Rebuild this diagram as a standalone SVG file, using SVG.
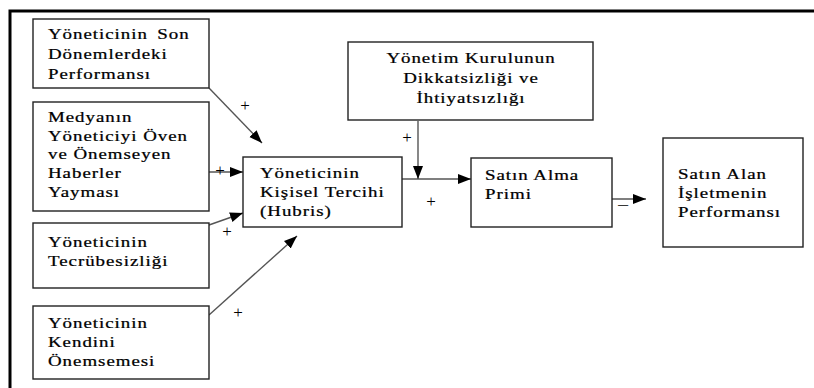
<svg xmlns="http://www.w3.org/2000/svg" width="814" height="388" viewBox="0 0 814 388">
<style>
.box{fill:#fff;stroke:#222;stroke-width:1.4}
.t{font-family:"Liberation Serif","Times New Roman",serif;font-size:15.5px;fill:#000;stroke:#000;stroke-width:0.25;letter-spacing:0.8px}
.s{font-family:"Liberation Serif","Times New Roman",serif;font-size:17px;fill:#000}
.c{stroke:#555;stroke-width:1.4;fill:none}
.frame{stroke:#000;stroke-width:3;fill:none}
</style>
<defs>
<marker id="ah" markerUnits="userSpaceOnUse" markerWidth="14" markerHeight="12" refX="13" refY="5" orient="auto">
<path d="M0,0 L13,5 L0,10 Z" fill="#000"/>
</marker>
</defs>
<rect width="814" height="388" fill="#fff"/>
<path class="frame" d="M10,388 V11 H814"/>

<g id="connectors">
<line class="c" x1="209" y1="88" x2="262" y2="143" marker-end="url(#ah)"/>
<line class="c" x1="209" y1="172" x2="243" y2="172" marker-end="url(#ah)"/>
<line class="c" x1="209" y1="225" x2="243" y2="213" marker-end="url(#ah)"/>
<line class="c" x1="209" y1="315" x2="297" y2="236" marker-end="url(#ah)"/>
<line class="c" x1="402" y1="179" x2="471" y2="179" marker-end="url(#ah)"/>
<line class="c" x1="418" y1="121" x2="418" y2="179" marker-end="url(#ah)"/>
<line class="c" x1="612" y1="199" x2="646" y2="199" marker-end="url(#ah)"/>
<text class="s" x="245" y="111" text-anchor="middle">+</text>
<text class="s" x="220" y="176" text-anchor="middle">+</text>
<text class="s" x="227" y="237" text-anchor="middle">+</text>
<text class="s" x="238" y="318" text-anchor="middle">+</text>
<text class="s" x="407" y="143" text-anchor="middle">+</text>
<text class="s" x="431" y="207" text-anchor="middle">+</text>
<text class="s" x="623" y="211" text-anchor="middle" transform="translate(623,0) scale(1.3,1) translate(-623,0)">−</text>
</g>

<g id="n1">
<rect class="box" x="33" y="19" width="176" height="69"/>
<text class="t" transform="translate(48,39) scale(1.22,1)"><tspan x="0" y="0">Yöneticinin <tspan dx="3">Son</tspan></tspan><tspan x="0" y="20">Dönemlerdeki</tspan><tspan x="0" y="40">Performansı</tspan></text>
</g>

<g id="n2">
<rect class="box" x="33" y="102" width="176" height="109"/>
<text class="t" transform="translate(48,122) scale(1.22,1)"><tspan x="0" y="0">Medyanın</tspan><tspan x="0" y="18.7">Yöneticiyi Öven</tspan><tspan x="0" y="37.4">ve Önemseyen</tspan><tspan x="0" y="56.1">Haberler</tspan><tspan x="0" y="74.8">Yayması</tspan></text>
</g>

<g id="n3">
<rect class="box" x="33" y="223" width="176" height="65"/>
<text class="t" transform="translate(48,247) scale(1.22,1)"><tspan x="0" y="0">Yöneticinin</tspan><tspan x="0" y="19">Tecrübesizliği</tspan></text>
</g>

<g id="n4">
<rect class="box" x="33" y="306" width="176" height="73"/>
<text class="t" transform="translate(48,328) scale(1.22,1)"><tspan x="0" y="0">Yöneticinin</tspan><tspan x="0" y="19">Kendini</tspan><tspan x="0" y="38">Önemsemesi</tspan></text>
</g>

<g id="n5">
<rect class="box" x="243" y="157" width="159" height="70"/>
<text class="t" transform="translate(260,178) scale(1.22,1)"><tspan x="0" y="0">Yöneticinin</tspan><tspan x="0" y="19">Kişisel Tercihi</tspan><tspan x="0" y="38">(Hubris)</tspan></text>
</g>

<g id="n6">
<rect class="box" x="348" y="42" width="245" height="78"/>
<text class="t" text-anchor="middle" transform="translate(471,63) scale(1.22,1)"><tspan x="0" y="0">Yönetim Kurulunun</tspan><tspan x="0" y="20">Dikkatsizliği ve</tspan><tspan x="0" y="40">İhtiyatsızlığı</tspan></text>
</g>

<g id="n7">
<rect class="box" x="471" y="158" width="141" height="69"/>
<text class="t" transform="translate(485,180) scale(1.22,1)"><tspan x="0" y="0">Satın Alma</tspan><tspan x="0" y="19">Primi</tspan></text>
</g>

<g id="n8">
<rect class="box" x="663" y="138" width="140" height="109"/>
<text class="t" transform="translate(678,179) scale(1.22,1)"><tspan x="0" y="0">Satın Alan</tspan><tspan x="0" y="19.5">İşletmenin</tspan><tspan x="0" y="38.5">Performansı</tspan></text>
</g>
</svg>
